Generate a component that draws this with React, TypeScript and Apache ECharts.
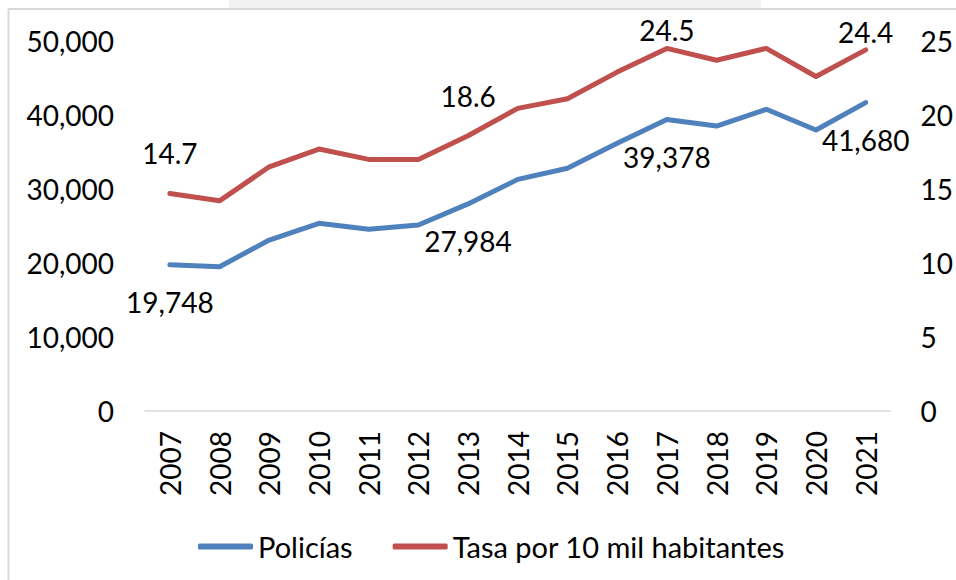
import React, { useEffect, useRef } from "react";
import * as echarts from "echarts";

const years = ["2007","2008","2009","2010","2011","2012","2013","2014","2015","2016","2017","2018","2019","2020","2021"];
const policias = [19748, 19500, 23100, 25360, 24550, 25130, 27984, 31300, 32800, 36170, 39378, 38510, 40770, 37970, 41680];
const tasa = [14.7, 14.2, 16.5, 17.7, 17.0, 17.0, 18.6, 20.45, 21.1, 22.9, 24.5, 23.7, 24.5, 22.6, 24.4];
const policiasLabelIdx = [0, 6, 10, 14];
const tasaLabelIdx = [0, 6, 10, 14];
const seriesNames = ["Policías", "Tasa por 10 mil habitantes"];

const FONT = "Lato";
const BLUE = "#4F81BD";
const RED = "#C0504D";

export default function App() {
  const ref = useRef<HTMLDivElement>(null);
  useEffect(() => {
    document.body.style.margin = "0";
    const chart = echarts.init(ref.current!, null, { renderer: "svg" });
    const fmt = (v: number) => v.toLocaleString("en-US");
    chart.setOption({
      animation: false,
      backgroundColor: "#ffffff",
      textStyle: { fontFamily: FONT, color: "#000" },
      grid: { left: 145, right: 65, top: 41, bottom: 169 },
      graphic: [
        { type: "rect", shape: { x: 229, y: 0, width: 532, height: 8 }, style: { fill: "#f2f2f2" }, silent: true },
        { type: "line", shape: { x1: 8, y1: 9, x2: 956, y2: 9 }, style: { stroke: "#d9d9d9", lineWidth: 2 }, silent: true },
        { type: "line", shape: { x1: 8.5, y1: 9, x2: 8.5, y2: 580 }, style: { stroke: "#d9d9d9", lineWidth: 2 }, silent: true },
      ],
      legend: {
        left: 193,
        top: 527,
        itemWidth: 55,
        itemHeight: 6,
        itemGap: 40,
        icon: "roundRect",
        data: seriesNames,
        textStyle: { fontFamily: FONT, fontSize: 29, color: "#000" },
      },
      xAxis: {
        type: "category",
        data: years,
        axisLine: { lineStyle: { color: "#d9d9d9", width: 1.5 } },
        axisTick: { show: false },
        axisLabel: { rotate: 90, margin: 20, fontFamily: FONT, fontSize: 28, color: "#000" },
      },
      yAxis: [
        {
          type: "value",
          min: 0,
          max: 50000,
          interval: 10000,
          axisLine: { show: false },
          axisTick: { show: false },
          splitLine: { show: false },
          axisLabel: { margin: 31, fontFamily: FONT, fontSize: 28, color: "#000", formatter: (v: number) => fmt(v) },
        },
        {
          type: "value",
          min: 0,
          max: 25,
          interval: 5,
          position: "right",
          axisLine: { show: false },
          axisTick: { show: false },
          splitLine: { show: false },
          axisLabel: { margin: 30, fontFamily: FONT, fontSize: 28, color: "#000" },
        },
      ],
      series: [
        {
          name: seriesNames[0],
          type: "line",
          yAxisIndex: 0,
          symbol: "circle",
          symbolSize: 0,
          showSymbol: true,
          itemStyle: { color: BLUE },
          color: BLUE,
          lineStyle: { color: BLUE, width: 5, cap: "round", join: "round" },
          data: policias.map((v, i) =>
            policiasLabelIdx.includes(i)
              ? {
                  value: v,
                  label: {
                    show: true,
                    position: "bottom",
                    distance: 23,
                    formatter: (p: any) => fmt(p.value),
                    fontFamily: FONT,
                    fontSize: 28,
                    color: "#000",
                  },
                }
              : v
          ),
        },
        {
          name: seriesNames[1],
          type: "line",
          yAxisIndex: 1,
          symbol: "circle",
          symbolSize: 0,
          showSymbol: true,
          itemStyle: { color: RED },
          color: RED,
          lineStyle: { color: RED, width: 5, cap: "round", join: "round" },
          data: tasa.map((v, i) =>
            tasaLabelIdx.includes(i)
              ? {
                  value: v,
                  label: {
                    show: true,
                    position: "top",
                    distance: i >= 10 ? 4 : 26,
                    formatter: (p: any) => (p.value as number).toFixed(1),
                    fontFamily: FONT,
                    fontSize: 28,
                    color: "#000",
                  },
                }
              : v
          ),
        },
      ],
    });
    return () => chart.dispose();
  }, []);
  return <div ref={ref} style={{ width: 956, height: 580 }} />;
}
